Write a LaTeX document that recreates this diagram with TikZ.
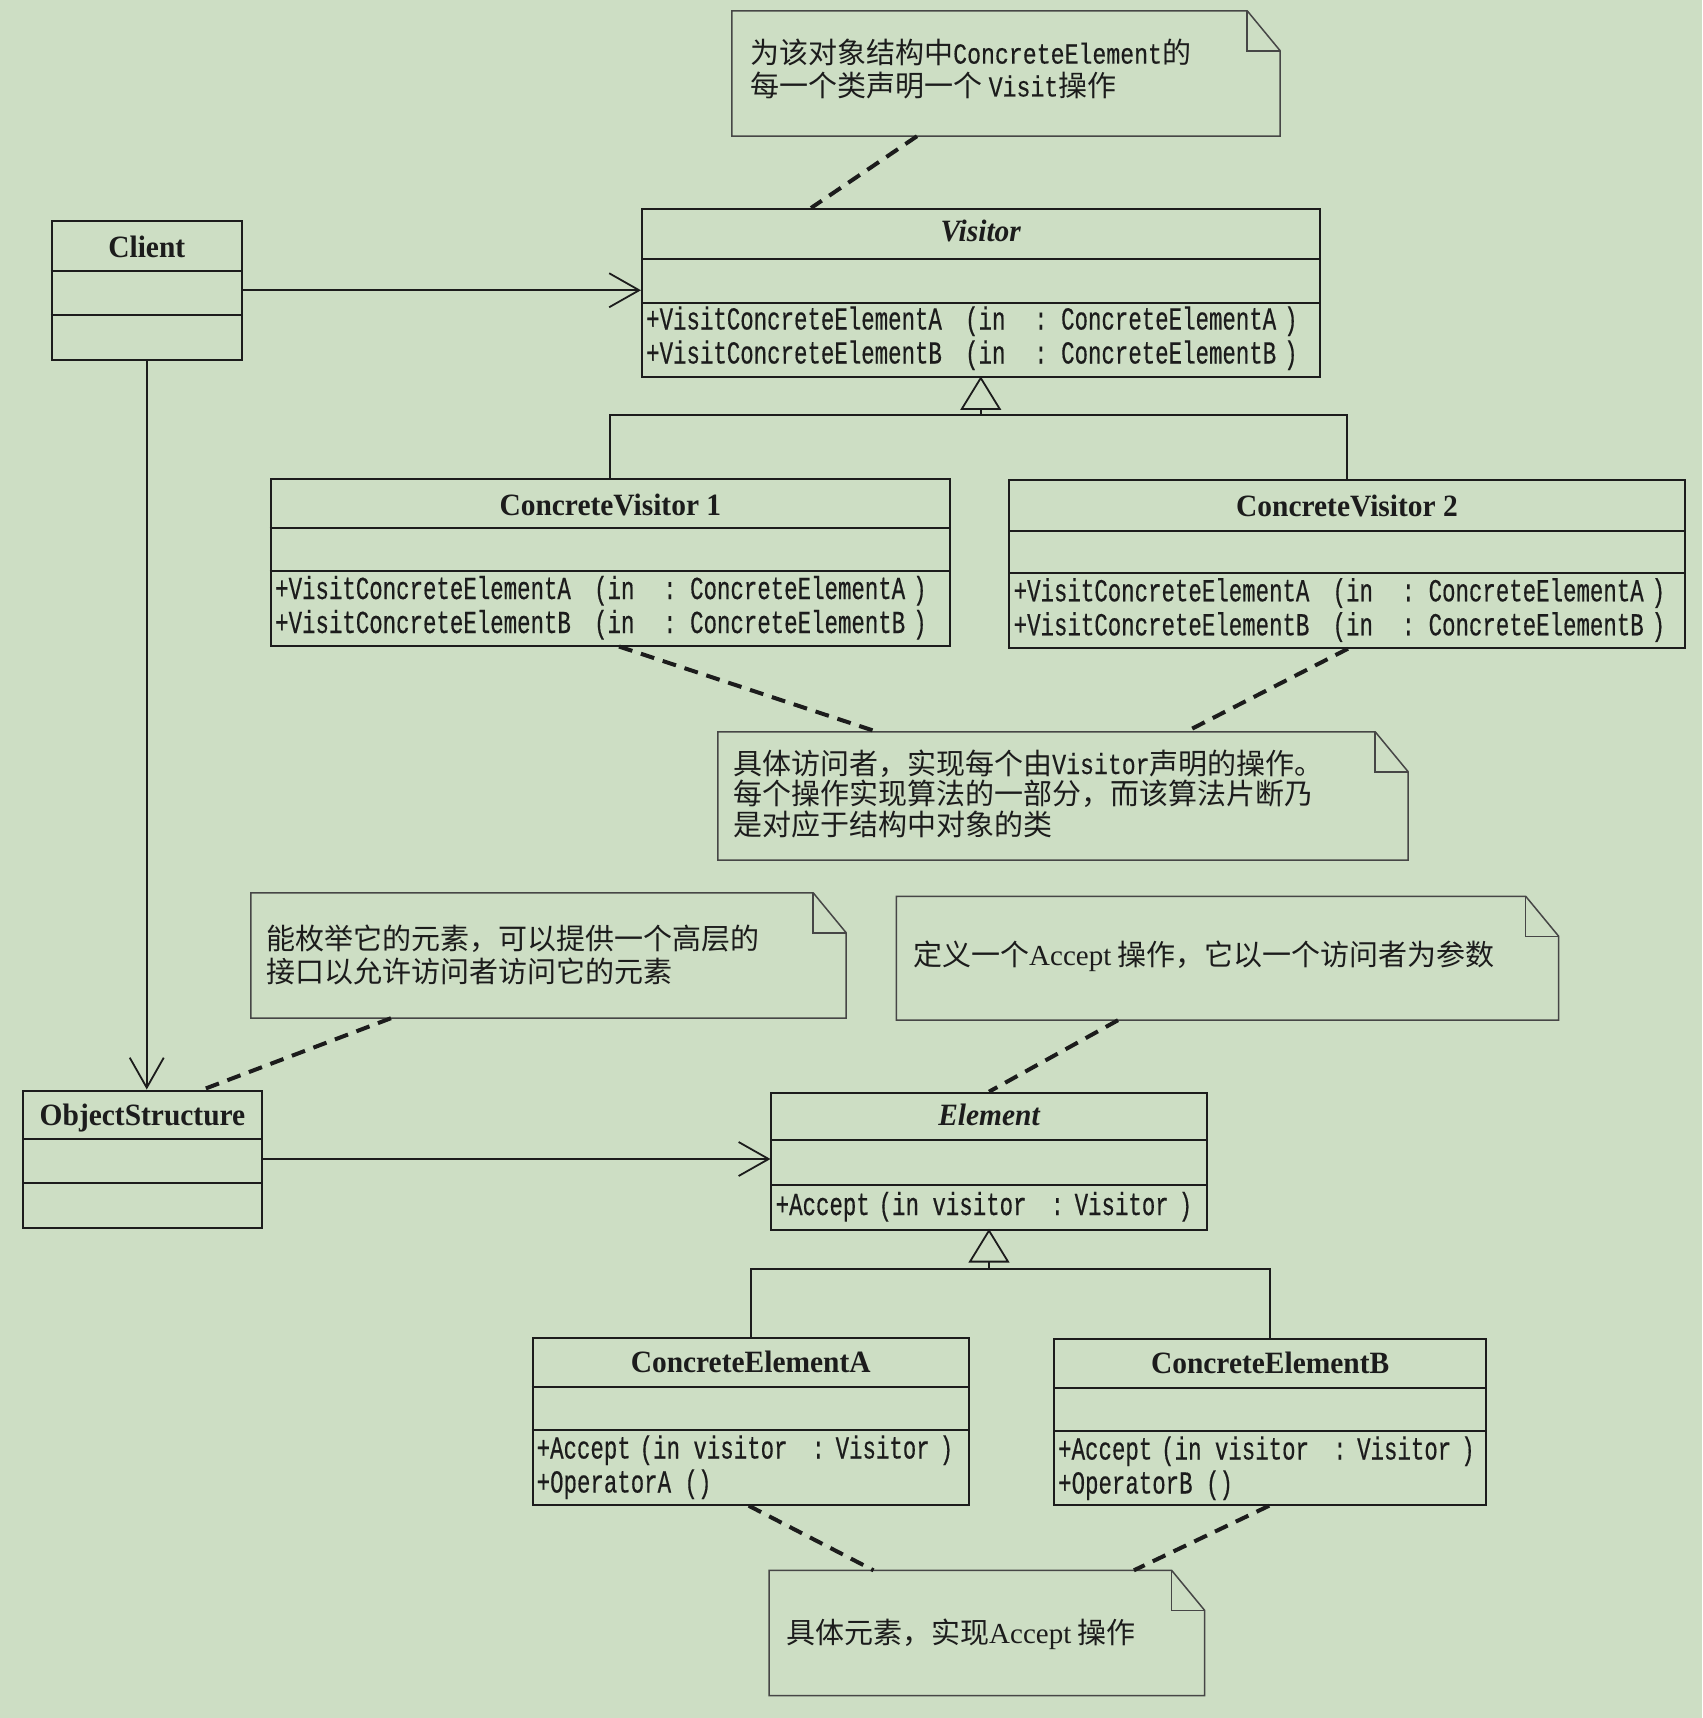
\documentclass[tikz,border=0pt]{standalone}
\usepackage{fontspec}
\setmainfont{Liberation Serif}
\newfontfamily\titlef[FakeStretch=0.95]{Liberation Serif}
\newfontfamily\monof[FakeStretch=0.7,FakeBold=0.4]{Liberation Mono}
\newfontfamily\notemono[FakeStretch=0.8,FakeBold=0.3]{Liberation Mono}
\newfontfamily\cjk{Noto Sans CJK SC}
\usetikzlibrary{arrows.meta}
\definecolor{bgc}{RGB}{205,222,196}
\definecolor{ink}{RGB}{28,28,28}
\definecolor{noteink}{RGB}{70,70,70}
\tikzset{
 cls/.style={draw=ink, line width=2pt, inner sep=0pt},
 divl/.style={draw=ink, line width=2pt},
 ttl/.style={font=\titlef\fontsize{31}{31}\selectfont\bfseries, text=ink, inner sep=0pt, anchor=base},
 ttli/.style={font=\titlef\fontsize{31}{31}\selectfont\bfseries\itshape, text=ink, inner sep=0pt, anchor=base},
 meth/.style={font=\monof\fontsize{32}{32}\selectfont, text=ink, inner sep=0pt, anchor=base west},
 notefr/.style={inner sep=0pt},
 noteline/.style={draw=noteink, line width=1.5pt, line join=miter},
 ntxt/.style={font=\cjk\fontsize{29}{29}\selectfont, text=ink, inner sep=0pt, anchor=base west},
 assoc/.style={draw=ink, line width=1.6pt, -{Straight Barb[length=30pt,width=34pt,line width=1.8pt]}},
 inh/.style={draw=ink, line width=1.8pt},
 dashc/.style={draw=ink, line width=4pt, dash pattern=on 14pt off 9pt},
}
\newcommand\cdiv[2]{\draw[divl] ([yshift=-#2pt]#1.north west) -- ([yshift=-#2pt]#1.north east);}
\newcommand\drawnote[1]{\draw[noteline] (#1.north west) -- ([xshift=-33pt]#1.north east) -- ([yshift=-40pt]#1.north east) -- (#1.south east) -- (#1.south west) -- cycle;
 \draw[noteline] ([xshift=-33pt]#1.north east) |- ([yshift=-40pt]#1.north east);}
\newcommand\vmline[1]{\makebox[319pt][l]{+VisitConcreteElement#1}\makebox[69pt][l]{(in}\makebox[27pt][l]{:}\makebox[223pt][l]{ConcreteElement#1})}
\newcommand\accline{\makebox[103pt][l]{+Accept}\makebox[172pt][l]{(in visitor}\makebox[24pt][l]{:}\makebox[104pt][l]{Visitor})}
\begin{document}
\begin{tikzpicture}[x=1pt,y=-1pt]
\fill[bgc] (0,0) rectangle (1702,1718);
\useasboundingbox (0,0) rectangle (1702,1718);

% ---------- classes ----------
\node[cls, minimum width=190.5pt, minimum height=138.5pt] (client) at (146.75,290.25) {};
\cdiv{client}{51} \cdiv{client}{94.6}
\node[ttl] (clientT) at (146.75,257) {Client};

\node[cls, minimum width=677.5pt, minimum height=168pt] (visitor) at (980.75,293) {};
\cdiv{visitor}{51} \cdiv{visitor}{94.6}
\node[ttli] (visitorT) at (980.75,241) {Visitor};
\node[meth] (visitorM1) at (646,329.5) {\vmline{A}};
\node[meth] (visitorM2) at (646,363.5) {\vmline{B}};

\node[cls, minimum width=679.3pt, minimum height=166.5pt] (cv1) at (610.35,562.25) {};
\cdiv{cv1}{50.3} \cdiv{cv1}{93}
\node[ttl] (cv1T) at (610.35,515) {ConcreteVisitor 1};
\node[meth] (cv1M1) at (275,599) {\vmline{A}};
\node[meth] (cv1M2) at (275,633) {\vmline{B}};

\node[cls, minimum width=675.1pt, minimum height=167.7pt] (cv2) at (1346.95,563.85) {};
\cdiv{cv2}{51.5} \cdiv{cv2}{94.3}
\node[ttl] (cv2T) at (1346.95,516.3) {ConcreteVisitor 2};
\node[meth] (cv2M1) at (1013.5,601.3) {\vmline{A}};
\node[meth] (cv2M2) at (1013.5,635.3) {\vmline{B}};

\node[cls, minimum width=239pt, minimum height=137pt] (os) at (142.5,1159) {};
\cdiv{os}{49.5} \cdiv{os}{93.1}
\node[ttl] (osT) at (142.5,1125.7) {ObjectStructure};

\node[cls, minimum width=435.1pt, minimum height=136.9pt] (element) at (989,1161.15) {};
\cdiv{element}{48.3} \cdiv{element}{93.1}
\node[ttli] (elementT) at (989,1125.7) {Element};
\node[meth] (elementM1) at (775.5,1215) {\accline};

\node[cls, minimum width=436.2pt, minimum height=166.7pt] (cea) at (750.7,1421.35) {};
\cdiv{cea}{49.5} \cdiv{cea}{93.3}
\node[ttl] (ceaT) at (750.7,1372) {ConcreteElementA};
\node[meth] (ceaM1) at (536.5,1458.5) {\accline};
\node[meth] (ceaM2) at (536.5,1492.5) {+OperatorA ()};

\node[cls, minimum width=431.7pt, minimum height=165.7pt] (ceb) at (1270.15,1421.85) {};
\cdiv{ceb}{49.6} \cdiv{ceb}{93.4}
\node[ttl] (cebT) at (1270.15,1373.3) {ConcreteElementB};
\node[meth] (cebM1) at (1058,1459.5) {\accline};
\node[meth] (cebM2) at (1058,1493.5) {+OperatorB ()};

% ---------- notes ----------
\node[notefr, minimum width=548pt, minimum height=125pt] (n1) at (1006,73.5) {};
\drawnote{n1}
\node[ntxt] (n1a) at (750,63.6) {为该对象结构中{\notemono ConcreteElement}的};
\node[ntxt] (n1b) at (750,96.5) {每一个类声明一个 {\notemono Visit}操作};

\node[notefr, minimum width=690pt, minimum height=128pt] (n2) at (1063,796) {};
\drawnote{n2}
\node[ntxt] (n2a) at (733,774) {具体访问者，实现每个由{\notemono Visitor}声明的操作。};
\node[ntxt] (n2b) at (733,804.5) {每个操作实现算法的一部分，而该算法片断乃};
\node[ntxt] (n2c) at (733,835) {是对应于结构中对象的类};

\node[notefr, minimum width=595pt, minimum height=125pt] (n3) at (548.5,955.5) {};
\drawnote{n3}
\node[ntxt] (n3a) at (266,949) {能枚举它的元素，可以提供一个高层的};
\node[ntxt] (n3b) at (266,982) {接口以允许访问者访问它的元素};

\node[notefr, minimum width=662pt, minimum height=123.5pt] (n4) at (1227.5,958.25) {};
\drawnote{n4}
\node[ntxt] (n4a) at (913,965.6) {定义一个{\rmfamily Accept} 操作，它以一个访问者为参数};

\node[notefr, minimum width=435pt, minimum height=125pt] (n5) at (986.9,1633) {};
\drawnote{n5}
\node[ntxt] (n5a) at (786,1643) {具体元素，实现{\rmfamily Accept} 操作};

% ---------- associations ----------
\draw[assoc] (client.east) -- (client.east -| visitor.west);
\draw[assoc] (client.south) -- (client.south |- os.north);
\draw[assoc] (os.east) -- (os.east -| element.west);

% ---------- generalizations ----------
\draw[inh, fill=bgc] (visitor.south) -- ++(-19,31) -- ++(38,0) -- cycle;
\coordinate (h1) at ([yshift=-37pt]visitor.south);
\draw[inh] ([yshift=-31pt]visitor.south) -- (h1);
\draw[inh] (cv1.north) |- (h1) -| (cv2.north);

\draw[inh, fill=bgc] (element.south) -- ++(-19,31) -- ++(38,0) -- cycle;
\coordinate (h2) at ([yshift=-38pt]element.south);
\draw[inh] ([yshift=-31pt]element.south) -- (h2);
\draw[inh] (cea.north) |- (h2) -| (ceb.north);

% ---------- note anchors ----------
\draw[dashc] ([xshift=-89pt]n1.south) -- ([xshift=-169.75pt]visitor.north);
\draw[dashc] ([xshift=8.65pt]cv1.south) -- ([xshift=-186pt]n2.north);
\draw[dashc] ([xshift=1pt]cv2.south) -- ([xshift=123pt]n2.north);
\draw[dashc] ([xshift=-157.5pt]n3.south) -- ([xshift=60.5pt]os.north);
\draw[dashc] ([xshift=-109.5pt]n4.south) -- (element.north);
\draw[dashc] ([xshift=-2pt]cea.south) -- ([xshift=-113.4pt]n5.north);
\draw[dashc] ([xshift=-1pt]ceb.south) -- ([xshift=147pt]n5.north);
\end{tikzpicture}
\end{document}
